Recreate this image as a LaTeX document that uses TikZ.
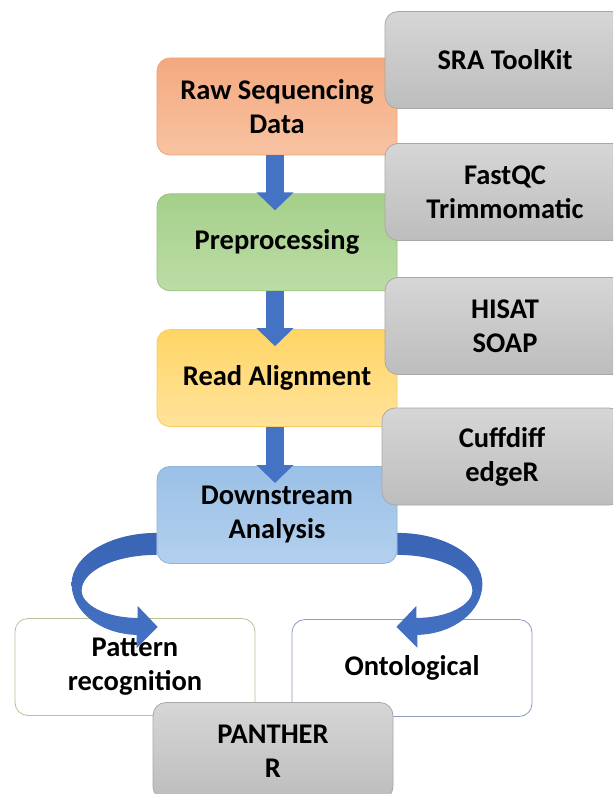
\documentclass[tikz,border=0pt]{standalone}
\usepackage{fontspec}
\setmainfont{Carlito}
\usetikzlibrary{arrows.meta, positioning, calc}

\definecolor{rawtop}{HTML}{F4A97F}
\definecolor{rawbot}{HTML}{F8C3A2}
\definecolor{rawline}{HTML}{EFA27A}
\definecolor{pretop}{HTML}{A5CF8A}
\definecolor{prebot}{HTML}{BCDDA6}
\definecolor{preline}{HTML}{98C47D}
\definecolor{alitop}{HTML}{FFD566}
\definecolor{alibot}{HTML}{FFE39A}
\definecolor{aliline}{HTML}{F5CE63}
\definecolor{dwntop}{HTML}{9BC0E6}
\definecolor{dwnbot}{HTML}{B3D0EE}
\definecolor{dwnline}{HTML}{8DB3DC}
\definecolor{tooltop}{HTML}{D6D6D6}
\definecolor{toolbot}{HTML}{BDBDBD}
\definecolor{toolline}{HTML}{A8A8A8}
\definecolor{flowblue}{HTML}{4472C4}
\definecolor{flowdark}{HTML}{3A64B4}
\definecolor{patline}{HTML}{B4C39A}
\definecolor{ontline}{HTML}{8A9CC0}

\tikzset{
  box/.style={rounded corners=13pt, minimum width=240pt, minimum height=97pt,
    inner sep=0pt, align=center, line width=0.8pt,
    font=\fontsize{28.5}{34}\selectfont\bfseries},
  stagebox/.style={box, draw=#1line, top color=#1top, bottom color=#1bot},
  toolbox/.style={box, draw=toolline, top color=tooltop, bottom color=toolbot},
  resultbox/.style={box, draw=#1, fill=white},
  downarrow/.style={flowblue, line width=18pt, -{Triangle[width=36pt, length=18pt]}},
  ribbon/.style={top color=flowdark, bottom color=flowblue, draw=none}
}

\begin{document}
\begin{tikzpicture}[x=1pt, y=-1pt]
  \clip (0,0) rectangle (613,794);
  \fill[white] (0,0) rectangle (613,794);

  % pipeline stages
  \node[stagebox=raw] (raw) at (277,106.5) {Raw Sequencing\\Data};
  \node[stagebox=pre, below=38pt of raw] (pre) {Preprocessing};
  \node[stagebox=ali, below=38pt of pre] (align) {Read Alignment};
  \node[stagebox=dwn, below=39pt of align] (down) {Downstream\\Analysis};

  % tools
  \node[toolbox] (sra) at (505,60) {SRA ToolKit};
  \node[toolbox] (qc) at (505,192) {FastQC\\Trimmomatic};
  \node[toolbox] (hisat) at (505,326) {HISAT\\SOAP};
  \node[toolbox] (cuff) at (502,456.5) {Cuffdiff\\edgeR};

  % arrows between stages
  \draw[downarrow] ($(raw.south)+(-2,0)$) -- ($(pre.north)+(-2,17)$);
  \draw[downarrow] ($(pre.south)+(-2,0)$) -- ($(align.north)+(-2,17)$);
  \draw[downarrow] ($(align.south)+(-2,0)$) -- ($(down.north)+(-2,17)$);

  % results
  \node[resultbox=patline] (pattern) at (135,667) {Pattern\\recognition};
  \node[resultbox=ontline] (onto) at (412,668) {Ontological};

  % curved arrows
  \begin{scope}[shift={(down.west)}]
    \path[ribbon] (0,18) .. controls (-47,18) and (-85,41) .. (-85,69)
      .. controls (-85,96) and (-57,119) .. (-20,120) -- (-20,133) -- (1,112)
      -- (-19,91) -- (-19,103) .. controls (-52,103) and (-75,89) .. (-75,76)
      .. controls (-75,56) and (-42,40) .. (0,40) -- cycle;
  \end{scope}
  \begin{scope}[shift={(down.east)}, xscale=-1]
    \path[ribbon] (0,18) .. controls (-47,18) and (-85,41) .. (-85,69)
      .. controls (-85,96) and (-57,119) .. (-20,120) -- (-20,133) -- (1,112)
      -- (-19,91) -- (-19,103) .. controls (-52,103) and (-75,89) .. (-75,76)
      .. controls (-75,56) and (-42,40) .. (0,40) -- cycle;
  \end{scope}

  \node[toolbox] (panther) at (273,751) {PANTHER\\R};
\end{tikzpicture}
\end{document}
